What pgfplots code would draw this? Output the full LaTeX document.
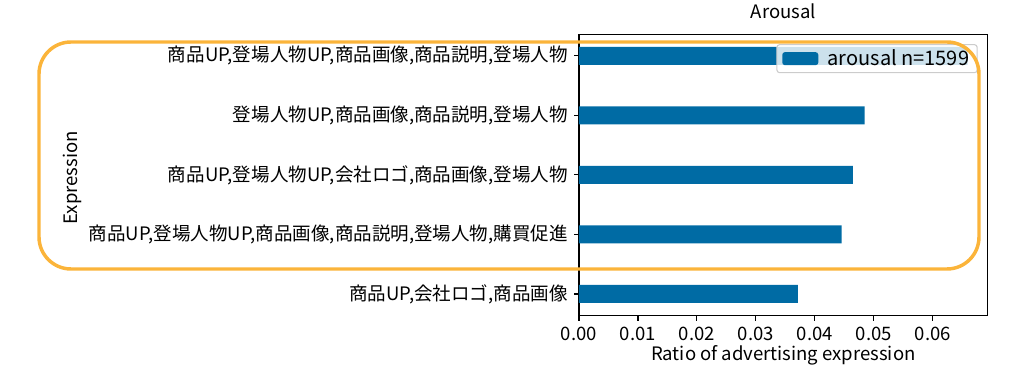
\documentclass[border=0pt]{standalone}
\usepackage{fontspec}
\setmainfont{Noto Sans CJK JP}
\usepackage{pgfplots}
\pgfplotsset{compat=1.18}
\definecolor{barblue}{HTML}{006BA4}
\definecolor{hl}{HTML}{FBB43A}
\begin{document}
\fontsize{13.9}{16.5}\selectfont
\begin{tikzpicture}
\path[use as bounding box] (0pt,0pt) rectangle (758.25pt,288pt);
\begin{axis}[
  at={(434.25pt,51.2pt)}, anchor=south west,
  width=306.5pt, height=211.2pt, scale only axis,
  xbar, bar width=13.5pt,
  xmin=0, xmax=0.0693, ymin=-0.365, ymax=4.365,
  ytick={0,1,2,3,4},
  yticklabels={{商品UP,会社ロゴ,商品画像},
               {商品UP,登場人物UP,商品画像,商品説明,登場人物,購買促進},
               {商品UP,登場人物UP,会社ロゴ,商品画像,登場人物},
               {登場人物UP,商品画像,商品説明,登場人物},
               {商品UP,登場人物UP,商品画像,商品説明,登場人物}},
  xtick={0,0.01,0.02,0.03,0.04,0.05,0.06},
  scaled x ticks=false,
  xticklabel style={/pgf/number format/.cd,fixed,fixed zerofill,precision=2,assume math mode=true},
  tick align=outside, major tick length=3.6pt,
  tick style={black, line width=0.8pt},
  xtick pos=bottom, ytick pos=left,
  axis line style={line width=0.8pt},
  title={Arousal},
  title style={at={(axis description cs:0.5,1)}, anchor=base, yshift=5.5pt},
  xlabel={Ratio of advertising expression},
  xlabel style={at={(axis description cs:0.5,0)}, anchor=base, yshift=-33.75pt},
  ylabel={Expression},
  ylabel style={at={(axis description cs:-1.2396,0.49)}, anchor=center},
  legend style={at={(axis description cs:0.9756,0.9645)}, anchor=north east,
    fill=white, fill opacity=0.8, draw opacity=1, text opacity=1,
    draw=black!20, rounded corners=2pt, line width=0.8pt,
    font=\fontsize{15}{18}\selectfont,
    inner xsep=4pt, inner ysep=1.5pt},
  legend image code/.code={\fill[barblue, fill opacity=1] (0pt,-4.9pt) rectangle (27pt,4.9pt); \path (32pt,0pt);},
]
\addplot[fill=barblue, draw=none] coordinates {
  (0.0371,0) (0.04453,1) (0.04644,2) (0.04842,3) (0.0659,4)
};
\addlegendentry{arousal n=1599}
\end{axis}
\draw[hl, line width=2.6pt, rounded corners=24pt] (29.25pt,256.5pt) rectangle (734.25pt,86.25pt);
\end{tikzpicture}
\end{document}
